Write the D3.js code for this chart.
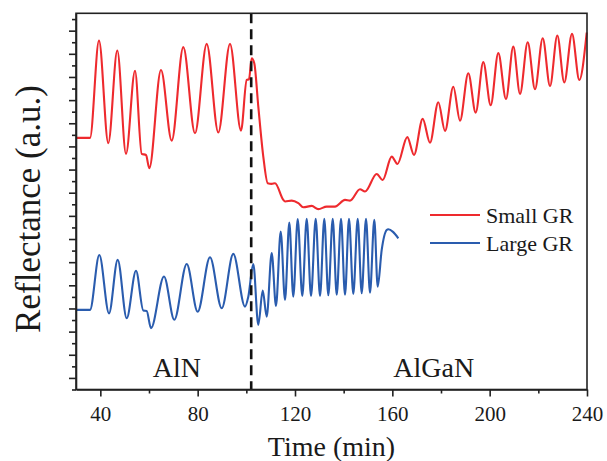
<!DOCTYPE html>
<html>
<head>
<meta charset="utf-8">
<script src="https://cdn.jsdelivr.net/npm/d3@7"></script>
<style>
  body { margin: 0; background: #fff; }
  svg { display: block; }
  text { font-family: "Liberation Serif", "Times New Roman", serif; fill: #1a1a1a; }
</style>
</head>
<body>
<svg id="chart" width="607" height="461"></svg>
<script>
// ---- Data ----
const xTickValues = [40, 80, 120, 160, 200, 240];
const xMinorTicks = [60, 100, 140, 180, 220];
const seriesNames = ["Small GR", "Large GR"];
const seriesColors = ["#ee2a2e", "#2a5cae"];
const dividerTime = 102;
const regionLabels = ["AlN", "AlGaN"];
const regionLabelTimes = [71.5, 177];

// Small GR (red): [time (min), reflectance (a.u.)]
const smallGR = [
  [30, 10.37], [35.75, 10.37], [39.45, 14.57], [43.27, 10.14], [46.97, 14.14],
  [50.55, 9.68], [54.25, 13.27], [57.0, 9.68], [58.77, 9.63], [60.12, 9.06],
  [64.93, 13.30], [69.33, 10.25], [74.10, 14.29], [78.90, 10.57], [83.71, 14.43],
  [88.48, 10.60], [93.29, 14.43], [97.81, 10.68], [100.15, 12.87], [101.1, 12.90],
  [102.2, 13.81], [103.27, 13.59], [104.92, 11.72], [106.97, 9.56], [108.78, 8.41],
  [110.42, 8.38], [111.78, 8.41], [115.2, 7.69], [115.9, 7.62], [118.65, 7.66],
  [121.36, 7.55], [123.41, 7.37], [126.86, 7.43], [129.58, 7.29], [133.03, 7.40],
  [136.44, 7.40], [140.55, 7.69], [142.6, 7.66], [146.71, 8.15], [148.77, 8.05],
  [153.58, 8.81], [156.04, 8.55], [159.74, 9.56], [162.1, 9.24], [166.15, 10.40],
  [168.9, 9.63], [172.48, 11.19], [175.48, 10.16], [178.89, 11.91], [181.65, 10.67],
  [185.06, 12.58], [187.81, 11.11], [191.22, 13.16], [194.26, 11.46], [197.38, 13.64],
  [200.42, 11.78], [203.55, 14.03], [206.71, 12.05], [209.71, 14.31], [212.47, 12.27],
  [215.63, 14.50], [218.63, 12.47], [221.8, 14.67], [224.8, 12.61], [227.8, 14.79],
  [230.67, 12.76], [233.84, 14.86], [236.84, 12.87], [239.88, 14.92]
];

// Large GR (blue): [time (min), reflectance (a.u.)]
const largeGR = [
  [30, 2.94], [35.75, 2.94], [39.58, 5.31], [43.56, 2.79], [47.14, 5.10],
  [50.84, 2.58], [54.66, 4.63], [57.66, 2.91], [59.05, 2.89], [60.82, 2.15],
  [66.16, 4.38], [70.4, 2.51], [75.5, 4.92], [80.0, 2.86], [85.07, 5.21],
  [89.88, 3.01], [94.64, 5.36], [99.45, 3.08], [100.81, 3.51], [102.86, 4.92],
  [104.92, 2.29], [106.73, 3.77], [108.37, 2.65], [110.43, 5.39], [112.19, 3.11],
  [114.13, 6.32], [115.89, 3.37], [117.66, 6.71], [119.3, 3.51], [121.11, 6.86],
  [123.0, 3.54], [124.81, 6.87], [126.58, 3.54], [128.51, 6.87], [130.28, 3.54],
  [132.04, 6.87], [133.69, 3.57], [135.5, 6.87], [137.14, 3.59], [138.91, 6.87],
  [140.55, 3.59], [142.19, 6.87], [143.96, 3.63], [145.77, 6.87], [147.41, 3.66],
  [149.18, 6.87], [150.82, 3.68], [152.59, 6.83], [153.98, 3.94], [155.63, 5.53],
  [157.68, 6.39], [158.34, 6.42], [160.27, 6.31], [162.46, 6.03]
];

const yMajorTicks = d3.range(0, 16, 1);
const yMinorTicks = d3.range(-0.5, 16, 1);

// ---- Layout ----
const svg = d3.select("#chart");
const pLeft = 76, pRight = 587, pTop = 13.3, pBottom = 389.5;

const x = d3.scaleLinear().domain([30, 240]).range([pLeft, pRight]);
const y = d3.scaleLinear().domain([-0.5, 15.75]).range([pBottom, pTop]);

const line = d3.line()
  .x(d => x(d[0]))
  .y(d => y(d[1]))
  .curve(d3.curveMonotoneX);

// Series
const allSeries = [smallGR, largeGR];
allSeries.forEach((s, i) => {
  svg.append("path")
    .datum(s)
    .attr("d", line)
    .attr("fill", "none")
    .attr("stroke", seriesColors[i])
    .attr("stroke-width", 2.1)
    .attr("stroke-linejoin", "round");
});

// Divider dashed line
svg.append("line")
  .attr("x1", x(dividerTime)).attr("x2", x(dividerTime))
  .attr("y1", pTop).attr("y2", pBottom)
  .attr("stroke", "#111")
  .attr("stroke-width", 2.6)
  .attr("stroke-dasharray", "10,6");

// Frame
svg.append("rect")
  .attr("x", pLeft).attr("y", pTop)
  .attr("width", pRight - pLeft).attr("height", pBottom - pTop)
  .attr("fill", "none").attr("stroke", "#222").attr("stroke-width", 1.6);

// X axis
const xAxis = svg.append("g").attr("transform", `translate(0,${pBottom})`)
  .call(d3.axisBottom(x).tickValues(xTickValues).tickSize(7).tickSizeOuter(0).tickFormat(d3.format("d")));
xAxis.select(".domain").attr("stroke", "#222").attr("stroke-width", 1.6);
xAxis.selectAll(".tick line").attr("stroke", "#222").attr("stroke-width", 1.6);
xAxis.selectAll(".tick text")
  .attr("y", 31).attr("dy", 0)
  .style("font-family", "'Liberation Serif', serif")
  .style("font-size", "21px").attr("fill", "#1a1a1a");

const xMinor = svg.append("g").attr("transform", `translate(0,${pBottom})`)
  .call(d3.axisBottom(x).tickValues(xMinorTicks).tickSize(4).tickSizeOuter(0).tickFormat(""));
xMinor.select(".domain").remove();
xMinor.selectAll(".tick line").attr("stroke", "#222").attr("stroke-width", 1.6);

// Y axis (no labels)
const yAxis = svg.append("g").attr("transform", `translate(${pLeft},0)`)
  .call(d3.axisLeft(y).tickValues(yMajorTicks).tickSize(7).tickSizeOuter(0).tickFormat(""));
yAxis.select(".domain").attr("stroke", "#222").attr("stroke-width", 1.6);
yAxis.selectAll(".tick line").attr("stroke", "#222").attr("stroke-width", 1.6);

const yMinor = svg.append("g").attr("transform", `translate(${pLeft},0)`)
  .call(d3.axisLeft(y).tickValues(yMinorTicks).tickSize(4).tickSizeOuter(0).tickFormat(""));
yMinor.select(".domain").remove();
yMinor.selectAll(".tick line").attr("stroke", "#222").attr("stroke-width", 1.6);

// Axis titles
svg.append("text")
  .attr("x", (x(30) + x(240)) / 2)
  .attr("y", 456)
  .attr("text-anchor", "middle")
  .style("font-size", "28px")
  .text("Time (min)");

svg.append("text")
  .attr("transform", `translate(40,209) rotate(-90)`)
  .attr("text-anchor", "middle")
  .style("font-size", "35px")
  .text("Reflectance (a.u.)");

// Region labels
regionLabels.forEach((lab, i) => {
  svg.append("text")
    .attr("x", x(regionLabelTimes[i]))
    .attr("y", 376.5)
    .attr("text-anchor", "middle")
    .style("font-size", "28px")
    .text(lab);
});

// Legend
const legendY = [215, 243];
seriesNames.forEach((name, i) => {
  svg.append("line")
    .attr("x1", 430).attr("x2", 480)
    .attr("y1", legendY[i]).attr("y2", legendY[i])
    .attr("stroke", seriesColors[i]).attr("stroke-width", 2.1);
  svg.append("text")
    .attr("x", 486).attr("y", legendY[i] + 8)
    .style("font-size", "22px")
    .text(name);
});
</script>
</body>
</html>
